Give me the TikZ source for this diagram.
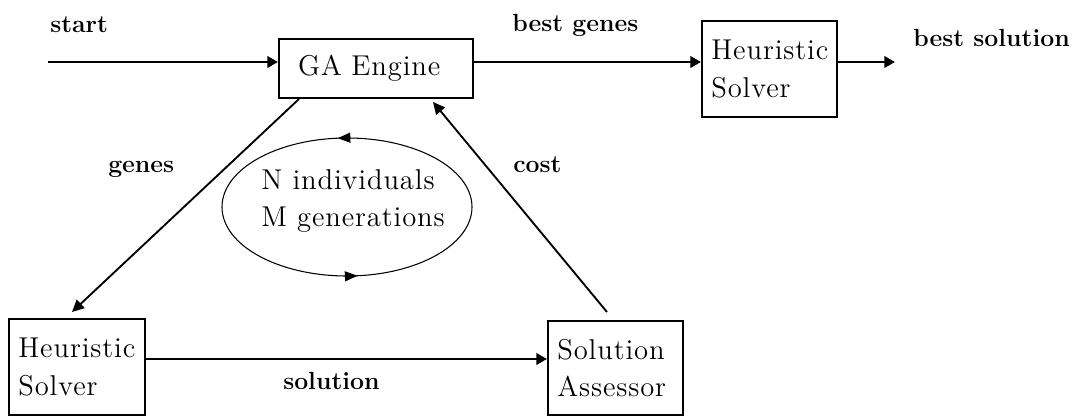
\documentclass[tikz,border=0pt]{standalone}
\usepackage{fontspec}
\newfontfamily\spacedrm{lmroman12-regular.otf}[LetterSpace=3]
\usetikzlibrary{arrows.meta,decorations.markings,calc}
\begin{document}
\begin{tikzpicture}[x=0.75pt,y=-0.75pt,
  boxfont/.style={font=\spacedrm\fontsize{21.5pt}{28pt}\selectfont},
  lbl/.style={font=\fontsize{18.6pt}{22pt}\selectfont\bfseries, inner sep=0pt, anchor=base west},
  box/.style={draw, line width=1.5pt, rectangle, boxfont, align=left, inner ysep=0pt, inner xsep=7pt},
  flow/.style={line width=2.1pt, -{Triangle[length=8pt,width=8.5pt]}},
  link/.style={line width=1.4pt, -{Triangle[length=9pt,width=8.5pt]}},
  looptip/.tip={Triangle[length=9.5pt,width=7.5pt]},
]
\useasboundingbox (0,0) rectangle (1076,416);

% processing blocks
\node[box, minimum width=145.5pt, minimum height=44.25pt, text width=117pt, inner xsep=14.25pt] (ga) at (376,68.5) {GA Engine};
\node[box, minimum width=101.25pt, minimum height=72pt, text width=87.25pt] (hsTop) at (769.5,69) {Heuristic\\Solver};
\node[box, minimum width=102pt, minimum height=72pt, text width=88pt] (hsLow) at (77,367) {Heuristic\\Solver};
\node[box, minimum width=101.25pt, minimum height=70.5pt, text width=87.25pt] (sa) at (615.5,368) {Solution\\Assessor};

% generation loop
\node[boxfont, align=left, inner sep=0pt, anchor=west] (pop) at (261,201) {N individuals\\M generations};
\draw[line width=0.8pt, postaction={decorate},
  decoration={markings,
    mark=at position 0.265 with {\arrow{looptip}},
    mark=at position 0.767 with {\arrow{looptip}}}]
  (347,207) ellipse [x radius=93.75pt, y radius=51.75pt];

% main line
\coordinate (in) at (48,62);
\coordinate (out) at (895,62);
\draw[flow] (in) -- (in -| ga.west);
\draw[flow] (in -| ga.east) -- (in -| hsTop.west);
\draw[flow] (in -| hsTop.east) -- (out);

% inner cycle
\draw[link] ([xshift=15.75pt]ga.south west) -- ([xshift=-3.75pt,yshift=4.5pt]hsLow.north);
\draw[flow] ([yshift=6pt]hsLow.east) -- ([yshift=6pt]hsLow.east -| sa.west);
\draw[link] ([xshift=-6.4pt,yshift=6pt]sa.north) -- ([xshift=42.75pt,yshift=-2.25pt]ga.south);

% labels
\node[lbl] (startLbl) at (50,33) {start};
\node[lbl] (bestGenesLbl) at (512,32) {best genes};
\node[lbl] (bestSolLbl) at (913,47) {best solution};
\node[lbl] (genesLbl) at (108,173) {genes};
\node[lbl] (costLbl) at (513,173) {cost};
\node[lbl] (solLbl) at (283,390) {solution};
\end{tikzpicture}
\end{document}
